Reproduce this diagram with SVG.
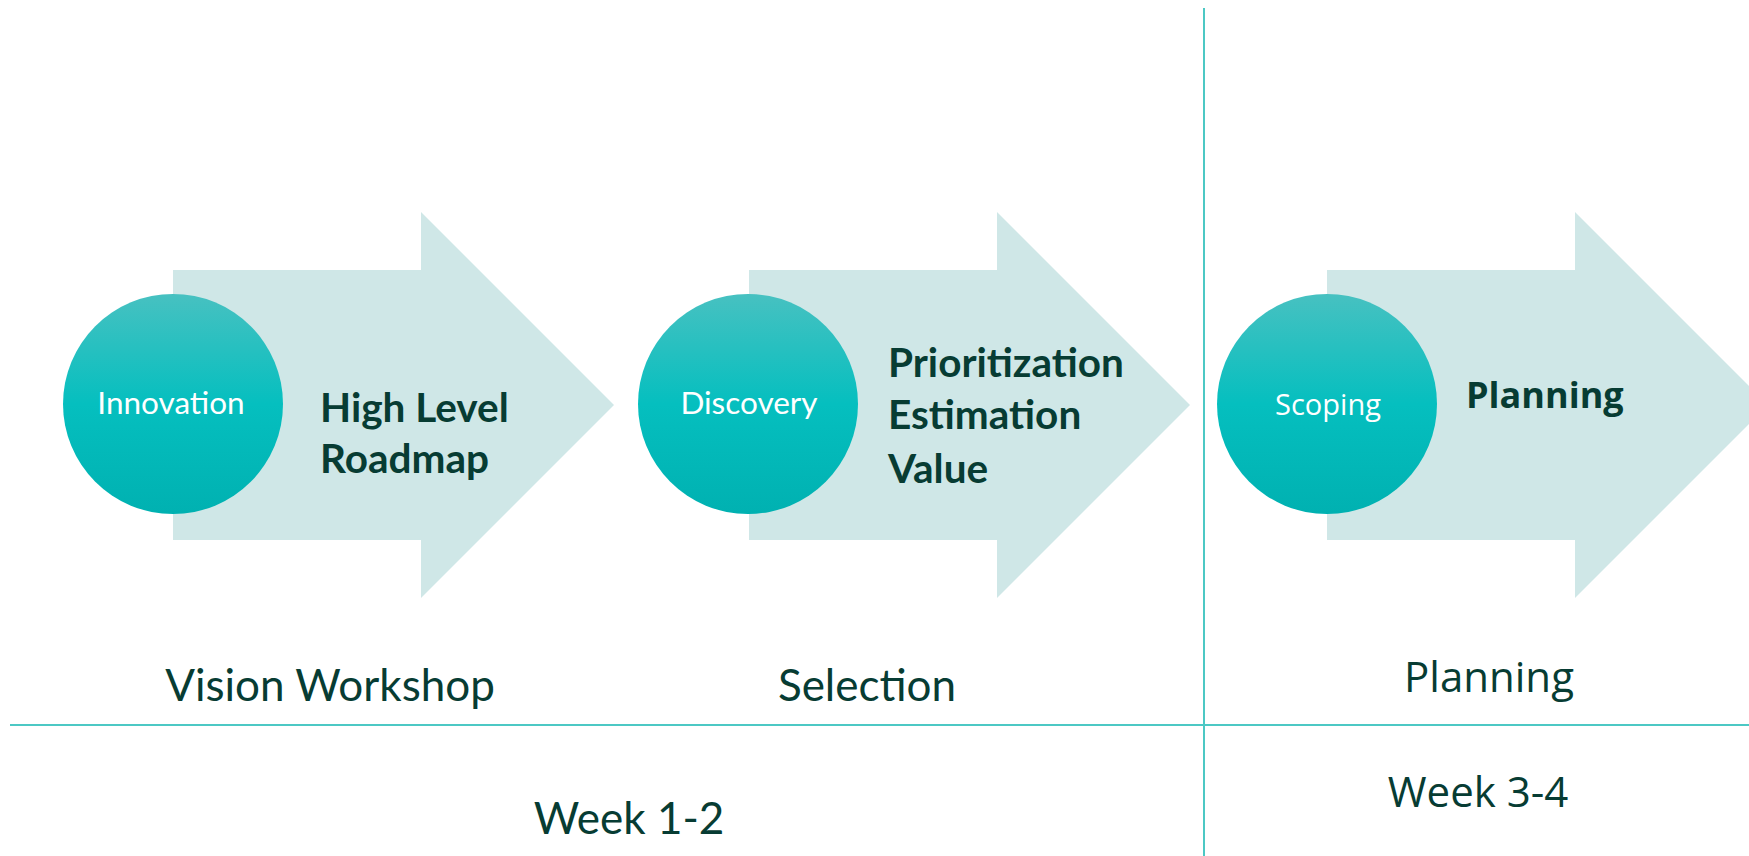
<svg xmlns="http://www.w3.org/2000/svg" width="1749" height="856" viewBox="0 0 1749 856">
<defs>
<linearGradient id="circGrad" x1="0" y1="0" x2="0" y2="1">
<stop offset="0" stop-color="#47C1C1"/>
<stop offset="0.5" stop-color="#05BFBF"/>
<stop offset="1" stop-color="#00B1B1"/>
</linearGradient>
<style>
.arrow{fill:#CFE7E7;}
.circ{fill:url(#circGrad);}
.ctext{font-family:Lato,"Open Sans",sans-serif;font-size:31.5px;fill:#FFFFFF;text-anchor:middle;}
.ctext2{font-family:"Open Sans",sans-serif;font-size:29px;fill:#FFFFFF;text-anchor:middle;}
.btext{font-family:Lato,"Open Sans",sans-serif;font-weight:bold;font-size:40.5px;fill:#073C33;}
.btext2{font-family:"Open Sans",sans-serif;font-weight:bold;font-size:36px;fill:#073C33;}
.ltext{font-family:Lato,"Open Sans",sans-serif;font-size:44px;fill:#073C33;text-anchor:middle;}
.ltext2{font-family:"Open Sans",sans-serif;font-size:42px;fill:#073C33;text-anchor:middle;}
.rule{stroke:#4CC8C4;stroke-width:2;fill:none;}
</style>
</defs>
<rect x="0" y="0" width="1749" height="856" fill="#FFFFFF"/>
<g id="connectors">
<line class="rule" x1="1204" y1="8" x2="1204" y2="856"/>
<line class="rule" x1="10" y1="725" x2="1749" y2="725"/>
</g>
<g id="stage1">
<polygon class="arrow" points="173,270 421,270 421,212 614,405 421,598 421,540 173,540"/>
<circle class="circ" cx="173" cy="404" r="110"/>
<text class="ctext" x="171" y="414">Innovation</text>
<text class="btext" x="320" y="422">High Level</text>
<text class="btext" x="320" y="473">Roadmap</text>
</g>
<g id="stage2">
<polygon class="arrow" points="749,270 997,270 997,212 1190,405 997,598 997,540 749,540"/>
<circle class="circ" cx="748" cy="404" r="110"/>
<text class="ctext" x="749" y="414">Discovery</text>
<text class="btext" x="888" y="377">Prioritization</text>
<text class="btext" x="888" y="429">Estimation</text>
<text class="btext" x="888" y="483">Value</text>
</g>
<g id="stage3">
<polygon class="arrow" points="1327,270 1575,270 1575,212 1768,405 1575,598 1575,540 1327,540"/>
<circle class="circ" cx="1327" cy="404" r="110"/>
<text class="ctext2" x="1328" y="415">Scoping</text>
<text class="btext2" x="1466" y="408">Planning</text>
</g>
<g id="labels">
<text class="ltext" x="330" y="701">Vision Workshop</text>
<text class="ltext" x="867" y="701">Selection</text>
<text class="ltext2" x="1489" y="692">Planning</text>
<text class="ltext" x="629" y="834" font-size="42.5">Week 1-2</text>
<text class="ltext2" x="1478" y="807">Week 3-4</text>
</g>
</svg>
